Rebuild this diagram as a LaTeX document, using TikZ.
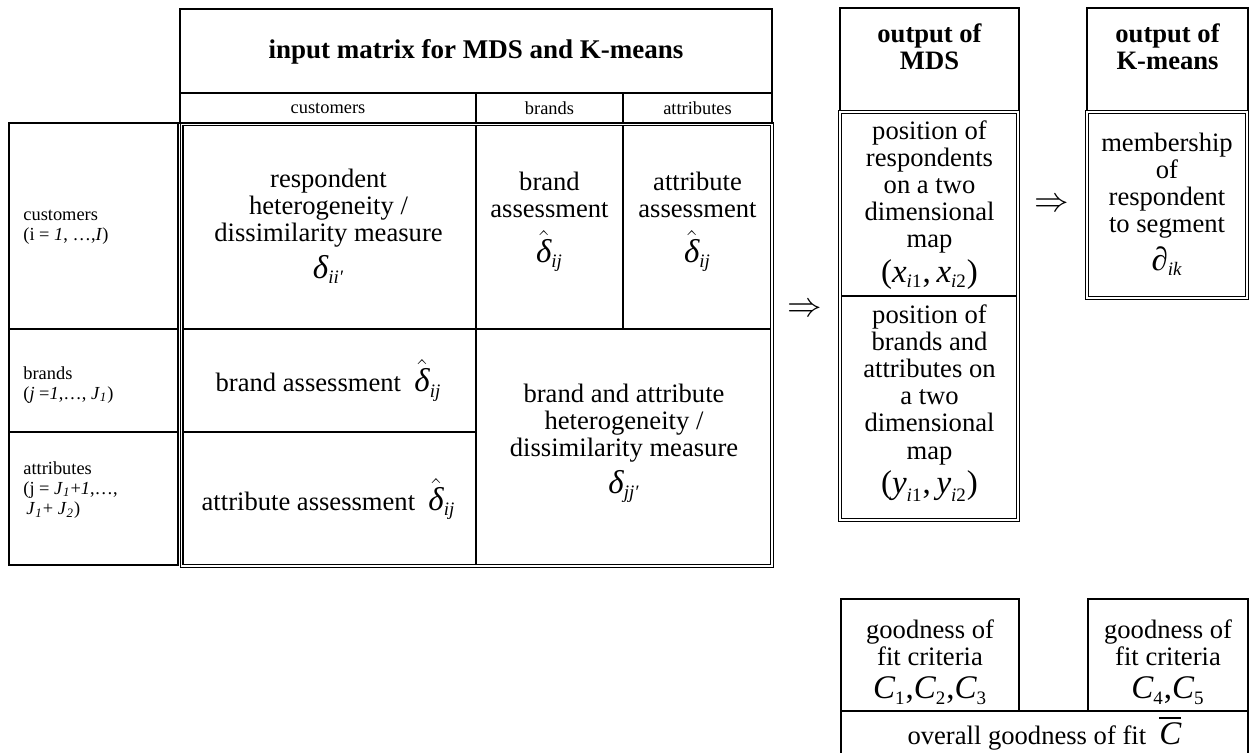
\documentclass[tikz,border=0pt]{standalone}
\usepackage{amsmath}
\usepackage{fontspec}
\setmainfont{Liberation Serif}
\DeclareMathSizes{16.5}{16.5}{9.5}{7}
\newcommand\ti[1]{\text{\itshape #1}}
\newcommand\tu[1]{\text{\upshape #1}}
\newcommand\fs{\fontsize{16.5}{17}\selectfont}
\newcommand\dhat{{\fs$\hat{\ti{δ}}_{\ti{ij}}$}}
\tikzset{
  cell/.style={draw, line width=0.7pt},
  dbl/.style={draw, line width=0.65pt, double, double distance=0.7pt},
  main/.style={align=center, font=\fontsize{13.3}{13.6}\selectfont, inner sep=0pt},
  head/.style={align=center, font=\fontsize{13.3}{13.6}\selectfont\bfseries, inner sep=0pt},
  small/.style={align=left, font=\fontsize{9.2}{10.2}\selectfont, inner sep=0pt, anchor=west},
  sub/.style={font=\fontsize{9.2}{10}\selectfont, inner sep=0pt},
  arr/.style={font=\fontsize{17}{17}\selectfont, inner sep=0pt},
}
\begin{document}
\begin{tikzpicture}[x=0.5pt, y=-0.5pt]
\useasboundingbox (0,0) rectangle (1256,753);
% left column
\draw[cell] (9,123) rectangle (178,565);
\draw[cell] (9,329) -- (178,329);
\draw[cell] (9,432) -- (178,432);
\node[small] (lcust) at (23,227) {customers\\(i = \textit{1}, …,\textit{I})};
\node[small] (lbrand) at (23,385) {brands\\(\textit{j} =\textit{1},…, \textit{J}\textsubscript{\textit{1}})};
\node[small] (lattr) at (23,490) {attributes\\(j = \textit{J}\textsubscript{\textit{1}}+\textit{1},…,\\ \,\textit{J}\textsubscript{\textit{1}}+ \textit{J}\textsubscript{\textit{2}})};
% header
\draw[cell] (180,9) rectangle (772,123);
\draw[cell] (180,93) -- (772,93);
\draw[cell] (476,93) -- (476,123);
\draw[cell] (623,93) -- (623,123);
\node[head, font=\fontsize{13.5}{14}\selectfont\bfseries] (title) at (476,52) {input matrix for MDS and K-means};
\node[sub] (scust) at (328,108) {customers};
\node[sub] (sbrand) at (549.5,108) {brands};
\node[sub] (sattr) at (697.5,108) {attributes};
% grid
\draw[cell] (476,124) -- (476,566);
\draw[cell] (623,124) -- (623,329);
\draw[cell] (181,329) -- (772,329);
\draw[cell] (181,432) -- (476,432);
\draw[dbl] (181.5,124.5) rectangle (772,566);
\node[main] (resp) at (328.5,226) {respondent\\heterogeneity /\\dissimilarity measure\\[3pt]{\fs$\ti{δ}_{\ti{ii′}}$}};
\node[main] (bass) at (549.5,222) {brand\\assessment\\[5pt]\dhat};
\node[main] (aass) at (697.5,222) {attribute\\assessment\\[5pt]\dhat};
\node[main] (bass2) at (328.5,380.5) {brand assessment\ \ \dhat};
\node[main] (aass2) at (328.5,499) {attribute assessment\ \ \dhat};
\node[main] (bah) at (624,443) {brand and attribute\\heterogeneity /\\dissimilarity measure\\[3pt]{\fs$\ti{δ}_{\ti{jj′}}$}};
% arrows
\node[arr] (arr1) at (805,310) {$\Rightarrow$};
\node[arr] (arr2) at (1052,205) {$\Rightarrow$};
% MDS
\draw[cell] (840,8) rectangle (1019,111);
\node[head, anchor=north] (mdsh) at (929.5,23) {output of\\MDS};
\draw[cell] (840,296) -- (1018,296);
\draw[dbl] (840,112) rectangle (1018,520);
\node[main] (mds1) at (929.5,205) {position of\\respondents\\on a two\\dimensional\\map\\[2pt]{\fs\tu{(}$\ti{x}_{\ti{i}\tu{1}}\tu{,}\,\ti{x}_{\ti{i}\tu{2}}$\tu{)}}};
\node[main] (mds2) at (929.5,403) {position of\\brands and\\attributes on\\a two\\dimensional\\map\\[2pt]{\fs\tu{(}$\ti{y}_{\ti{i}\tu{1}}\tu{,}\,\ti{y}_{\ti{i}\tu{2}}$\tu{)}}};
% K-means
\draw[cell] (1087,8) rectangle (1248,111);
\node[head, anchor=north] (kmh) at (1167.5,23) {output of\\K-means};
\draw[dbl] (1087,112) rectangle (1247,298);
\node[main] (km1) at (1167,204) {membership\\of\\respondent\\to segment\\[3pt]{\fs$\tu{∂}_{\ti{ik}}$}};
% goodness of fit
\draw[cell] (841,599) rectangle (1019,711);
\draw[cell] (1088,599) rectangle (1248,711);
\draw[cell] (841,711) rectangle (1248,756);
\node[main] (gf1) at (930,662) {goodness of\\fit criteria\\[3pt]{\fs$\ti{C}_{\tu{1}}\tu{,}\ti{C}_{\tu{2}}\tu{,}\ti{C}_{\tu{3}}$}};
\node[main] (gf2) at (1168,662) {goodness of\\fit criteria\\[3pt]{\fs$\ti{C}_{\tu{4}}\tu{,}\ti{C}_{\tu{5}}$}};
\node[main] (gfo) at (1044.5,733) {overall goodness of fit\ \ {\fs$\overline{\ti{C}}$}};
\end{tikzpicture}
\end{document}
